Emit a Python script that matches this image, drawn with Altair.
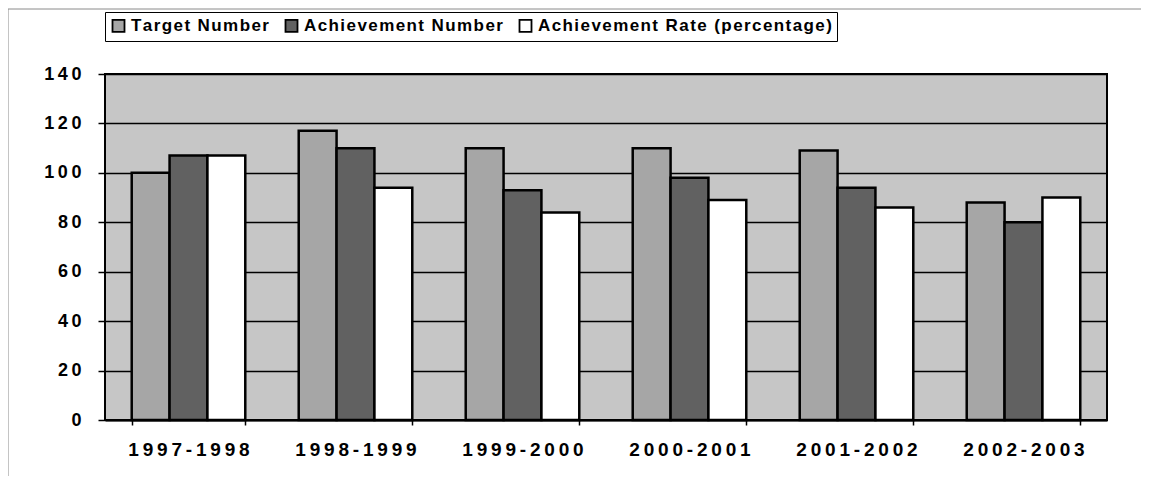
import altair as alt
import pandas as pd

years = ["1997-1998", "1998-1999", "1999-2000", "2000-2001", "2001-2002", "2002-2003"]
series = ["Target Number", "Achievement Number", "Achievement Rate (percentage)"]
target = [100, 117, 110, 110, 109, 88]
achievement = [107, 110, 93, 98, 94, 80]
rate = [107, 94, 84, 89, 86, 90]
colors = ["#a6a6a6", "#616161", "#ffffff"]
y_ticks = [0, 20, 40, 60, 80, 100, 120, 140]

rows = []
for i, yr in enumerate(years):
    for s, vals in zip(series, [target, achievement, rate]):
        rows.append({"Year": yr, "Series": s, "Value": vals[i]})
df = pd.DataFrame(rows)

FONT = "Arial, Liberation Sans, sans-serif"
SPACED = "join(split(datum.label, ''), '\u2009')"
HAIR = "join(split(datum.label, ''), '\u200a')"

bars = alt.Chart(df).mark_bar(stroke="black", strokeWidth=2.5).encode(
    x=alt.X("Year:N", sort=years, title=None,
            scale=alt.Scale(paddingInner=0.32, paddingOuter=0.16),
            axis=alt.Axis(labelAngle=0, labelFont=FONT, labelFontSize=19,
                          labelFontWeight="bold", labelColor="black",
                          labelPadding=15, labelExpr=SPACED,
                          tickBand="extent", tickSize=5, tickColor="black",
                          tickWidth=1.5, domainColor="black", domainWidth=2,
                          grid=False)),
    xOffset=alt.XOffset("Series:N", sort=series,
                        scale=alt.Scale(paddingInner=0, paddingOuter=0)),
    y=alt.Y("Value:Q", title=None,
            scale=alt.Scale(domain=[0, 140], nice=False),
            axis=alt.Axis(values=y_ticks, labelFont=FONT, labelFontSize=18,
                          labelFontWeight="bold", labelColor="black",
                          labelPadding=17, labelExpr=SPACED,
                          tickSize=7, tickColor="black", tickWidth=1.5,
                          domain=False, grid=True, gridColor="black",
                          gridWidth=1.6, gridOpacity=1)),
    color=alt.Color("Series:N", sort=series,
                    scale=alt.Scale(domain=series, range=colors),
                    legend=alt.Legend(title=None, orient="none",
                                      direction="horizontal",
                                      legendX=0, legendY=-62,
                                      fillColor="white", strokeColor="black",
                                      padding=5, symbolType="square",
                                      symbolSize=144, symbolStrokeColor="black",
                                      symbolStrokeWidth=1.8, symbolOpacity=1,
                                      labelFont=FONT, labelFontSize=17,
                                      labelFontWeight="bold", labelColor="black",
                                      labelExpr=HAIR, labelOffset=4,
                                      columnPadding=12, labelLimit=500)),
)

frame = alt.Chart(pd.DataFrame({"a": [0]})).mark_rect(
    fill=None, stroke="#8a8a8a", strokeWidth=1
).encode(
    x=alt.value(-97), x2=alt.value(1040), y=alt.value(-65), y2=alt.value(404)
)

chart = alt.layer(frame, bars).properties(
    width=1002, height=346,
    padding={"left": 97, "top": 66, "right": 34, "bottom": 56},
    autosize=alt.AutoSizeParams(type="none"),
    background="white",
).configure_view(fill="#c6c6c6", stroke="black", strokeWidth=2)

chart.save("out.html", embed_options={"renderer": "svg", "actions": False})
